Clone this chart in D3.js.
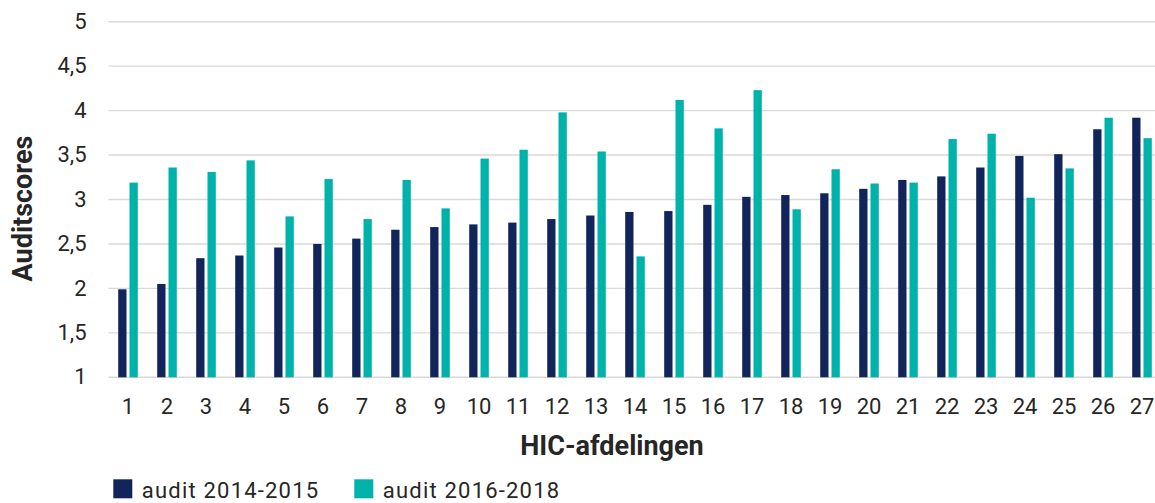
<!DOCTYPE html>
<html><head><meta charset="utf-8">
<script src="https://cdn.jsdelivr.net/npm/d3@7"></script>
<style>
body{margin:0;background:#fff;}
svg{display:block;font-family:Roboto,"Noto Sans",sans-serif;}
</style></head>
<body><svg id="c" width="1155" height="503"></svg>
<script>
const categories = ["1","2","3","4","5","6","7","8","9","10","11","12","13","14","15","16","17","18","19","20","21","22","23","24","25","26","27"];
const seriesNames = ["audit 2014-2015","audit 2016-2018"];
const audit2014 = [1.99,2.05,2.34,2.37,2.46,2.50,2.56,2.66,2.69,2.72,2.74,2.78,2.82,2.86,2.87,2.94,3.03,3.05,3.07,3.12,3.22,3.26,3.36,3.49,3.51,3.79,3.92];
const audit2016 = [3.19,3.36,3.31,3.44,2.81,3.23,2.78,3.22,2.90,3.46,3.56,3.98,3.54,2.36,4.12,3.80,4.23,2.89,3.34,3.18,3.19,3.68,3.74,3.02,3.35,3.92,3.69];
const yTicks = [1,1.5,2,2.5,3,3.5,4,4.5,5];
const colors = ["#12255b","#00b3aa"];

const svg = d3.select("#c");
const y = d3.scaleLinear().domain([1,5]).range([377.3,21.7]);
const x0 = d3.scaleBand().domain(categories).range([108.5,1161.5]).padding(0);
const bw = x0.bandwidth();
const x1 = d3.scaleBand().domain(seriesNames).range([(bw-19.6)/2,(bw+19.6)/2]).paddingInner(0.265);

// gridlines
svg.append("g").selectAll("line").data(yTicks).join("line")
  .attr("x1",108.5).attr("x2",1155)
  .attr("y1",d=>y(d)).attr("y2",d=>y(d))
  .attr("stroke","#d9d9d9").attr("stroke-width",1.4);

// y tick labels
const yAxis = d3.axisLeft(y).tickValues(yTicks).tickSize(0).tickPadding(0)
  .tickFormat(d=>String(d).replace(".",","));
const gy = svg.append("g").attr("transform","translate(86.5,0)").call(yAxis);
gy.select(".domain").remove();
gy.selectAll("text").attr("font-size",22).attr("fill","#262626").attr("font-family","Roboto").attr("dy","0.3em");

// bars
const rows = categories.map((c,i)=>({c, vals:[audit2014[i],audit2016[i]]}));
const g = svg.append("g");
const grp = g.selectAll("g").data(rows).join("g").attr("transform",d=>`translate(${x0(d.c)},0)`);
grp.selectAll("rect").data(d=>d.vals.map((v,k)=>({k,v}))).join("rect")
  .attr("x",d=>x1(seriesNames[d.k])).attr("width",x1.bandwidth())
  .attr("y",d=>y(d.v)).attr("height",d=>y(1)-y(d.v))
  .attr("fill",d=>colors[d.k]);

// x tick labels
const xAxis = d3.axisBottom(x0).tickSize(0).tickPadding(0);
const gx = svg.append("g").attr("transform","translate(0,398)").call(xAxis);
gx.select(".domain").remove();
gx.selectAll("text").attr("font-size",22).attr("fill","#262626").attr("font-family","Roboto").attr("dy","0.71em");

// axis titles
svg.append("text").attr("x",612).attr("y",455).attr("text-anchor","middle")
  .attr("font-size",27).attr("font-weight","bold").attr("fill","#262626").text("HIC-afdelingen");
svg.append("text").attr("transform","translate(31.5,208.5) rotate(-90)").attr("text-anchor","middle")
  .attr("font-size",27).attr("font-weight","bold").attr("fill","#262626").text("Auditscores");

// legend
const lg = svg.append("g").attr("transform","translate(113.3,479.3)");
const lx = [0,241];
seriesNames.forEach((n,k)=>{
  lg.append("rect").attr("x",lx[k]).attr("y",0).attr("width",19).attr("height",19).attr("fill",colors[k]);
  lg.append("text").attr("x",lx[k]+28.5).attr("y",19).attr("font-size",22).attr("letter-spacing",1.2).attr("fill","#262626").text(n);
});
</script></body></html>
